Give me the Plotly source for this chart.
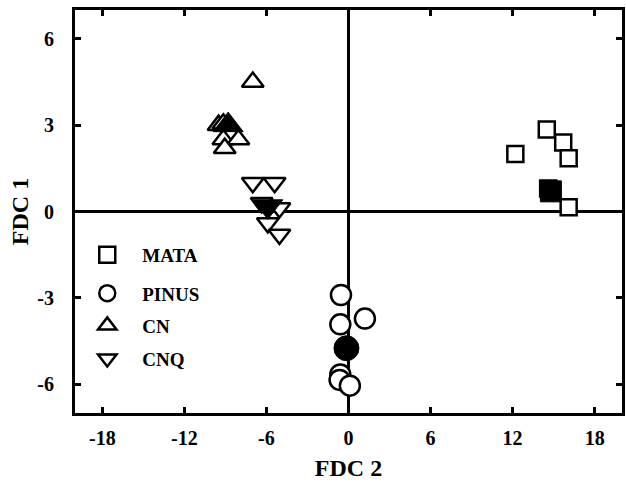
import plotly.graph_objects as go

# MATA (open squares) and group mean (filled)
mata_x = [14.5, 15.7, 16.1, 12.2, 16.1, 14.6]
mata_y = [2.85, 2.4, 1.85, 2.0, 0.15, 0.8]
mata_mean_x = [14.8]
mata_mean_y = [0.7]

# PINUS (open circles) and mean
pinus_x = [-0.55, 1.2, -0.6, -0.6, -0.65, 0.1]
pinus_y = [-2.9, -3.72, -3.92, -5.66, -5.85, -6.05]
pinus_mean_x = [-0.15]
pinus_mean_y = [-4.75]

# CN (open up-triangles) and mean
cn_x = [-7.0, -9.5, -9.15, -9.15, -8.05, -9.05]
cn_y = [4.5, 3.0, 3.05, 2.5, 2.5, 2.2]
cn_mean_x = [-8.8]
cn_mean_y = [3.0]

# CNQ (open down-triangles) and mean
cnq_x = [-7.0, -5.4, -6.35, -5.05, -5.9, -5.05]
cnq_y = [1.0, 1.0, 0.3, 0.12, -0.4, -0.8]
cnq_mean_x = [-5.9]
cnq_mean_y = [0.18]

x_ticks = [-18, -12, -6, 0, 6, 12, 18]
y_ticks = [-6, -3, 0, 3, 6]

FONT = "Liberation Serif"

fig = go.Figure()

groups = [
    ("MATA", mata_x, mata_y, mata_mean_x, mata_mean_y, "square", 16, 21, "legend"),
    ("PINUS", pinus_x, pinus_y, pinus_mean_x, pinus_mean_y, "circle", 20, 25, "legend2"),
    ("CN", cn_x, cn_y, cn_mean_x, cn_mean_y, "triangle-up", 19, 26, "legend3"),
    ("CNQ", cnq_x, cnq_y, cnq_mean_x, cnq_mean_y, "triangle-down", 19, 26, "legend4"),
]

for name, xs, ys, mx, my, sym, sz, msz, lg in groups:
    fig.add_trace(go.Scatter(
        x=xs, y=ys, mode="markers", name=name, legend=lg,
        marker=dict(symbol=sym, size=sz, color="white",
                    line=dict(color="black", width=2.5)),
    ))
    fig.add_trace(go.Scatter(
        x=mx, y=my, mode="markers", showlegend=False,
        marker=dict(symbol=sym, size=msz, color="black",
                    line=dict(color="black", width=1)),
    ))

leg_common = dict(
    xanchor="left", yanchor="middle", bgcolor="rgba(0,0,0,0)",
    borderwidth=0, itemwidth=60,
    font=dict(family=FONT, size=19, color="black", weight="bold"),
)
fig.update_layout(
    legend=dict(x=-0.005, y=0.392, **leg_common),
    legend2=dict(x=-0.005, y=0.297, **leg_common),
    legend3=dict(x=-0.005, y=0.217, **leg_common),
    legend4=dict(x=-0.005, y=0.135, **leg_common),
)

axis_common = dict(
    showline=True, linewidth=3, linecolor="black", mirror="ticks",
    ticks="inside", ticklen=6, tickwidth=3, tickcolor="black",
    showgrid=False, zeroline=True, zerolinewidth=3, zerolinecolor="black",
    tickfont=dict(family=FONT, size=20, color="black", weight="bold"),
    automargin=False,
)

fig.update_xaxes(range=[-20, 20], tickvals=x_ticks,
                 ticktext=[str(v) for v in x_ticks],
                 ticklabelstandoff=5,
                 title=dict(text="FDC 2", standoff=12,
                            font=dict(family=FONT, size=24, color="black", weight="bold")),
                 **axis_common)
fig.update_yaxes(range=[-7, 7], tickvals=y_ticks,
                 ticktext=[str(v) for v in y_ticks],
                 ticklabelstandoff=14,
                 title=dict(text="FDC 1", standoff=2,
                            font=dict(family=FONT, size=24, color="black", weight="bold")),
                 **axis_common)

fig.update_layout(
    width=626, height=488,
    margin=dict(l=75, r=4, t=10, b=75),
    plot_bgcolor="white", paper_bgcolor="white",
)

fig.write_html(
    "out.html",
    config={"displayModeBar": False},
    post_script="document.body.style.margin='0';document.body.style.overflow='hidden';",
)
